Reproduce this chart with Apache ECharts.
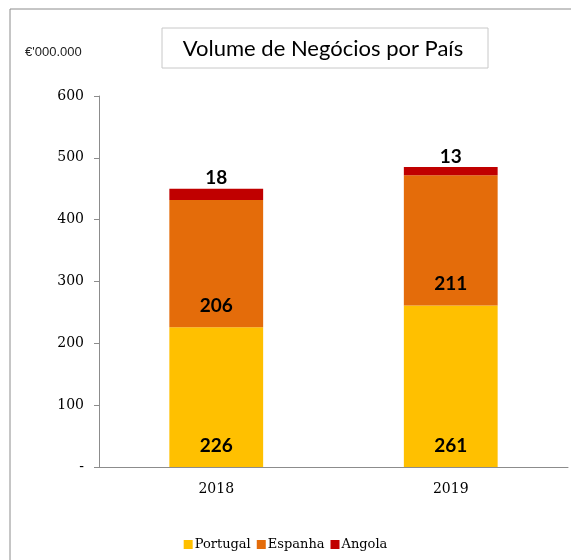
<!DOCTYPE html>
<html lang="pt">
  <head>
    <meta charset="UTF-8" />
    <title>Volume de Negócios por País</title>
    <script src="https://cdn.jsdelivr.net/npm/echarts@6/dist/echarts.min.js"></script>
  </head>
  <body style="margin: 0;">
    <div id="chart" style="width: 571px; height: 560px;"></div>
    <script>
      // dados
      const years = ['2018', '2019']
      const portugal = [226, 261]
      const espanha = [206, 211]
      const angola = [18, 13]
      const yTicks = [0, 100, 200, 300, 400, 500, 600]

      const serif = '"DejaVu Serif", "Liberation Serif", serif'
      const sans = 'Lato, "Open Sans", sans-serif'

      const chart = echarts.init(document.getElementById('chart'))

      function barSeries(name, data, color, pos, dist) {
        return {
          name,
          type: 'bar',
          stack: 'total',
          barWidth: '40%',
          data,
          itemStyle: { color },
          label: {
            show: true,
            position: pos,
            distance: dist,
            color: '#000',
            fontFamily: sans,
            fontWeight: 'bold',
            fontSize: 19
          }
        }
      }

      const option = {
        animation: false,
        backgroundColor: '#fff',
        graphic: [
          // moldura
          {
            type: 'rect',
            shape: { x: 10, y: 9, width: 600, height: 600 },
            style: { fill: 'none', stroke: '#8c8c8c', lineWidth: 1 }
          },
          // caixa do título
          {
            type: 'rect',
            shape: { x: 162, y: 28, width: 326, height: 40 },
            style: { fill: '#fff', stroke: '#c8c8c8', lineWidth: 1 }
          },
          {
            type: 'text',
            x: 323,
            y: 49,
            style: {
              text: 'Volume de Negócios por País',
              fontFamily: sans,
              fontSize: 22,
              fill: '#000',
              align: 'center',
              verticalAlign: 'middle'
            }
          },
          {
            type: 'text',
            x: 25,
            y: 52,
            style: {
              text: "€'000.000",
              fontFamily: '"Liberation Sans", Arial, sans-serif',
              fontSize: 13,
              fill: '#222',
              verticalAlign: 'middle'
            }
          }
        ],
        legend: {
          bottom: 4,
          left: 'center',
          icon: 'rect',
          itemWidth: 9,
          itemHeight: 9,
          itemGap: 6,
          textStyle: { fontFamily: serif, fontSize: 13, color: '#000', padding: [0, 0, 0, -3] }
        },
        grid: { left: 99, right: 3, top: 96, bottom: 93 },
        xAxis: {
          type: 'category',
          data: years,
          axisLine: { lineStyle: { color: '#8c8c8c' } },
          axisTick: { length: 6, lineStyle: { color: '#8c8c8c' } },
          axisLabel: { margin: 15, fontFamily: serif, fontSize: 14, color: '#000' }
        },
        yAxis: {
          type: 'value',
          min: yTicks[0],
          max: yTicks[yTicks.length - 1],
          interval: 100,
          splitLine: { show: false },
          axisLine: { show: true, lineStyle: { color: '#8c8c8c' } },
          axisTick: { show: true, length: 5, lineStyle: { color: '#8c8c8c' } },
          axisLabel: {
            margin: 15,
            fontFamily: serif,
            fontSize: 14,
            color: '#000',
            formatter: v => (v === 0 ? '-' : v)
          }
        },
        series: [
          barSeries('Portugal', portugal, '#FFC000', 'insideBottom', 12),
          barSeries('Espanha', espanha, '#E46C0A', 'insideBottom', 12),
          barSeries('Angola', angola, '#C00000', 'top', 1)
        ]
      }
      chart.setOption(option)
    </script>
  </body>
</html>
